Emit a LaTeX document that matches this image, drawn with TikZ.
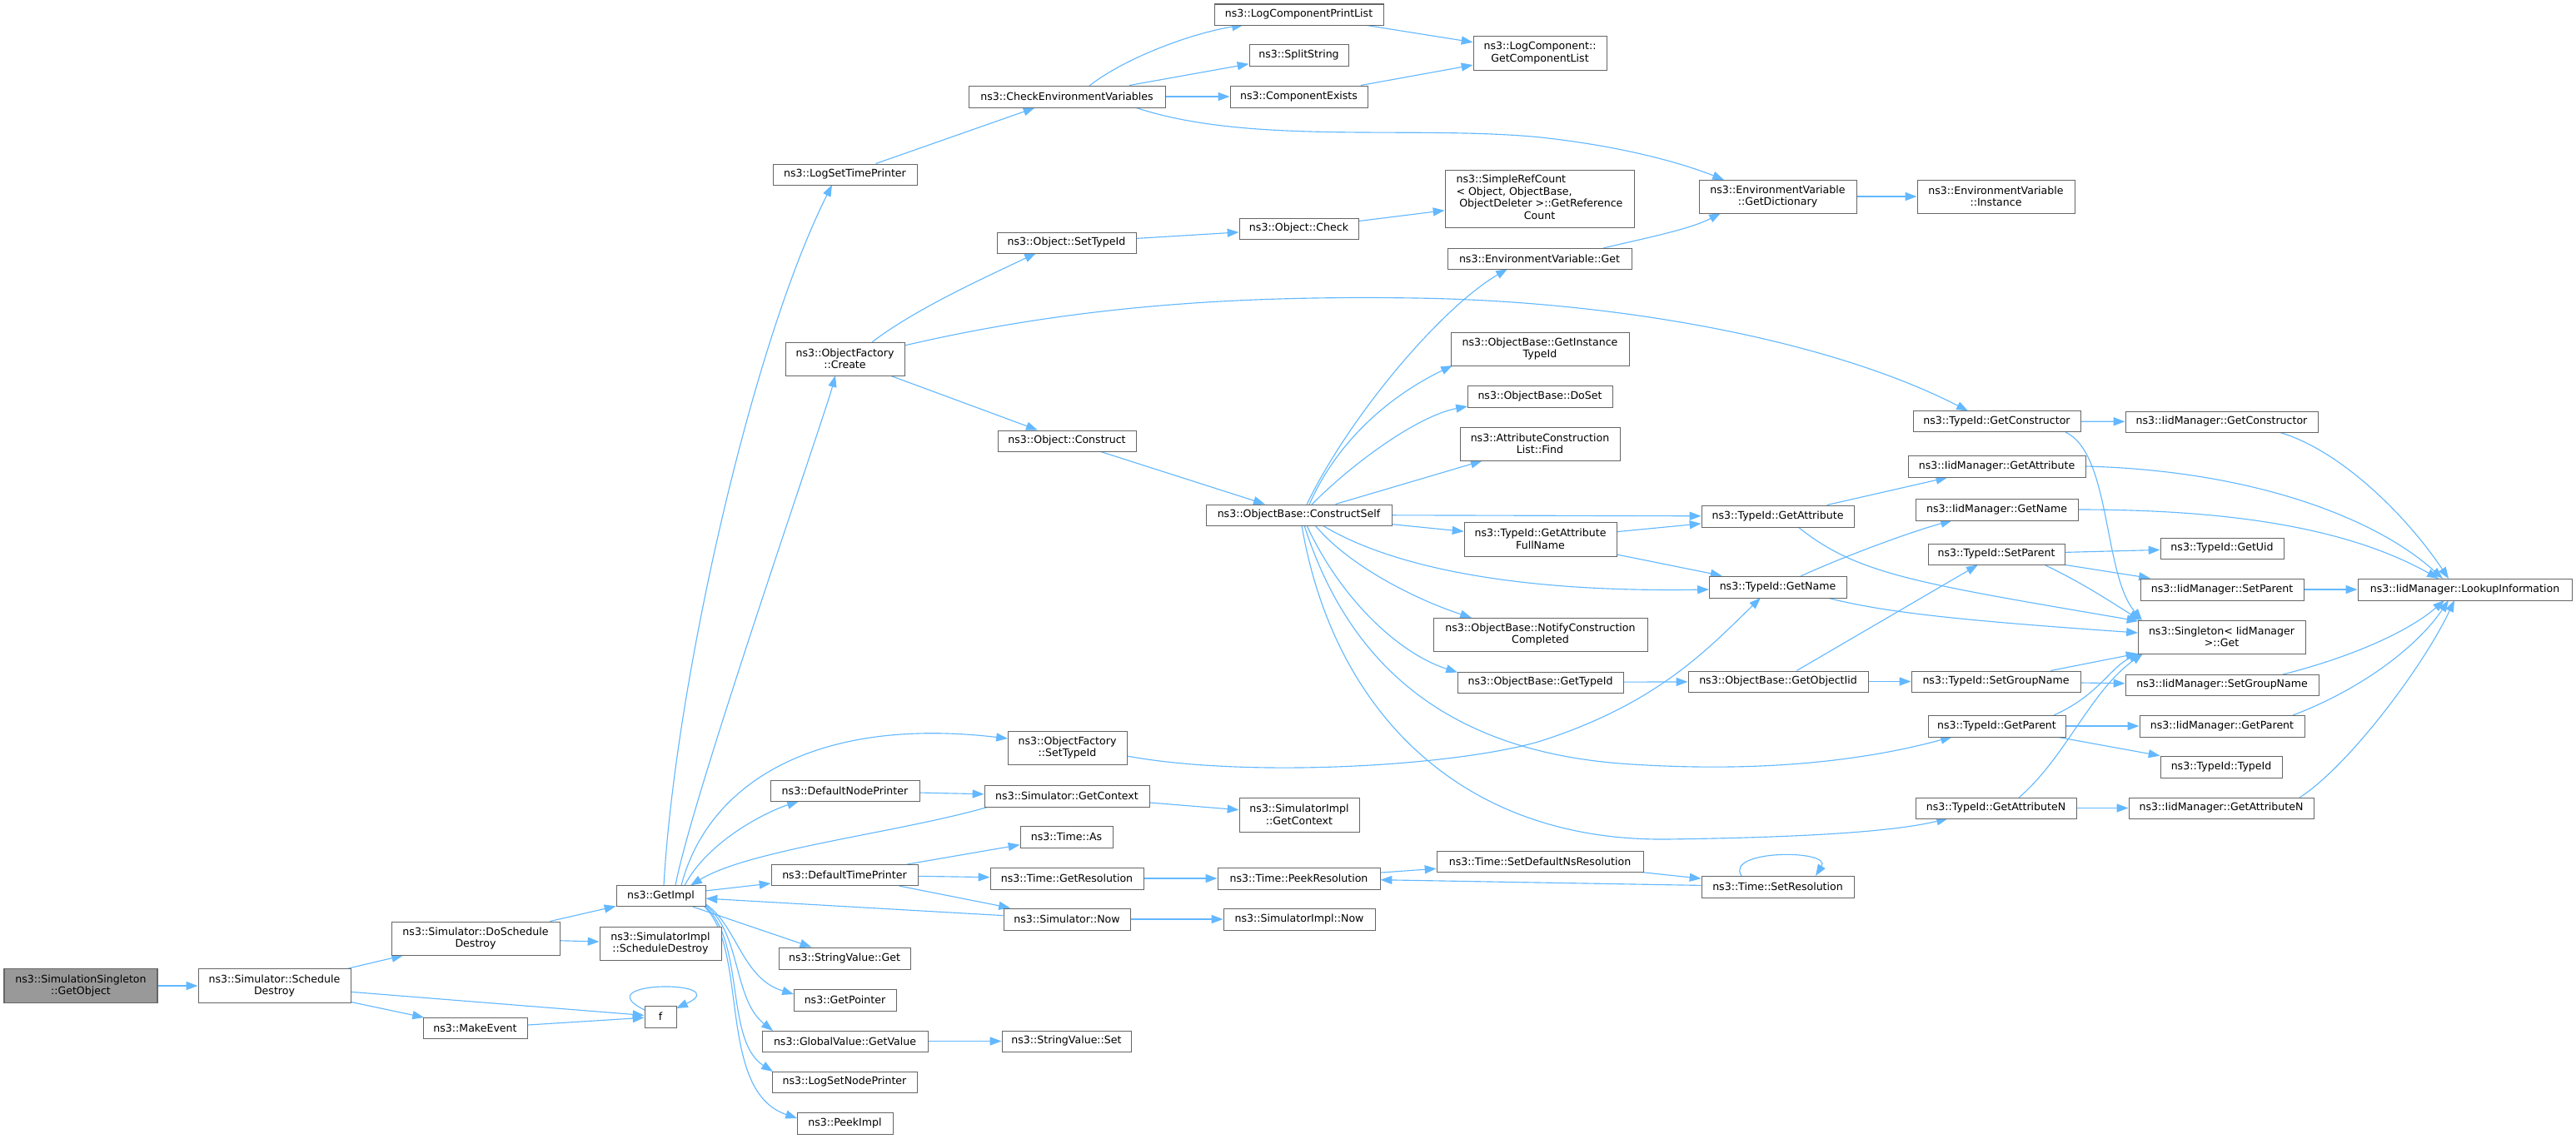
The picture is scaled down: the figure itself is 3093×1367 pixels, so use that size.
\documentclass[tikz,border=0pt]{standalone}
\usepackage{fontspec}
\setmainfont{DejaVu Sans}
\usetikzlibrary{arrows.meta,calc}
\definecolor{edgec}{HTML}{63B8FF}
\definecolor{boxc}{HTML}{666666}
\definecolor{rootc}{HTML}{999999}
\pgfdeclarelayer{bg}
\pgfsetlayers{bg,main}
\tikzset{
  box/.style={draw=boxc, fill=white, line width=0.8pt, inner sep=0pt, align=center,
              font=\fontsize{10}{11.5}\selectfont, text=black},
  bw/.style={minimum width=#1*0.7955pt},
  bh/.style={minimum height=#1*0.7955pt},
  e/.style={draw=edgec, line width=0.9pt, -{Triangle[length=11pt,width=8pt]}},
}
\begin{document}
\begin{tikzpicture}[x=0.7955pt, y=-0.7955pt]
\useasboundingbox (0,0) rectangle (3093,1367);
% rank 0-3
\node[box,bw=184,bh=41,fill=rootc] (root) at (97,1184) {ns3::SimulationSingleton\\::GetObject};
\node[box,bw=183,bh=41] (sched) at (329.5,1184) {ns3::Simulator::Schedule\\Destroy};
\node[box,bw=202,bh=40] (dosched) at (571,1127) {ns3::Simulator::DoSchedule\\Destroy};
\node[box,bw=125,bh=25] (mkev) at (570.5,1235) {ns3::MakeEvent};
\node[box,bw=107,bh=25] (getimpl) at (793.5,1076) {ns3::GetImpl};
\node[box,bw=146,bh=40] (simschd) at (793,1133) {ns3::SimulatorImpl\\::ScheduleDestroy};
\node[box,bw=38,bh=26] (f) at (793,1221) {f};
% rank 4
\node[box,bw=173,bh=25] (logsettp) at (1014.5,209.5) {ns3::LogSetTimePrinter};
\node[box,bw=143,bh=40] (ofcreate) at (1014.5,431) {ns3::ObjectFactory\\::Create};
\node[box,bw=179,bh=25] (defnp) at (1014.5,950) {ns3::DefaultNodePrinter};
\node[box,bw=176,bh=25] (deftp) at (1014,1051) {ns3::DefaultTimePrinter};
\node[box,bw=158,bh=26] (svget) at (1014,1151) {ns3::StringValue::Get};
\node[box,bw=123,bh=26] (getptr) at (1014.5,1201) {ns3::GetPointer};
\node[box,bw=199,bh=25] (gvget) at (1014.5,1250.5) {ns3::GlobalValue::GetValue};
\node[box,bw=174,bh=25] (lognp) at (1014,1299.5) {ns3::LogSetNodePrinter};
\node[box,bw=115,bh=26] (peek) at (1014.5,1349) {ns3::PeekImpl};
% rank 5
\node[box,bw=236,bh=26] (checkenv) at (1281,116) {ns3::CheckEnvironmentVariables};
\node[box,bw=167,bh=25] (objsettid) at (1280.5,291.5) {ns3::Object::SetTypeId};
\node[box,bw=166,bh=25] (objconst) at (1281,529.5) {ns3::Object::Construct};
\node[box,bw=143,bh=40] (ofsettid) at (1281.5,898) {ns3::ObjectFactory\\::SetTypeId};
\node[box,bw=198,bh=26] (simgetctx) at (1281,956) {ns3::Simulator::GetContext};
\node[box,bw=111,bh=26] (timeas) at (1280.5,1005) {ns3::Time::As};
\node[box,bw=184,bh=26] (timegetres) at (1281,1055) {ns3::Time::GetResolution};
\node[box,bw=152,bh=26] (simnow) at (1281,1104) {ns3::Simulator::Now};
\node[box,bw=155,bh=25] (svset) at (1280.5,1250.5) {ns3::StringValue::Set};
% rank 6
\node[box,bw=203,bh=25] (lcpl) at (1559.5,17.5) {ns3::LogComponentPrintList};
\node[box,bw=119,bh=26] (split) at (1559.5,66) {ns3::SplitString};
\node[box,bw=165,bh=26] (compex) at (1559.5,116) {ns3::ComponentExists};
\node[box,bw=143,bh=25] (objcheck) at (1559.5,274.5) {ns3::Object::Check};
\node[box,bw=223,bh=25] (cself) at (1559.5,618.5) {ns3::ObjectBase::ConstructSelf};
\node[box,bw=144,bh=41] (simigetctx) at (1560,978.5) {ns3::SimulatorImpl\\::GetContext};
\node[box,bw=195,bh=26] (peekres) at (1559.5,1055) {ns3::Time::PeekResolution};
\node[box,bw=182,bh=26] (siminow) at (1560,1104) {ns3::SimulatorImpl::Now};
% rank 7
\node[box,bw=160,bh=41] (gcl) at (1849,63.5) {ns3::LogComponent::\\GetComponentList};
\node[box,bw=227,bh=69] (srefc) at (1848.5,238.5) {\begin{tabular}{@{}l@{}}ns3::SimpleRefCount\\< Object, ObjectBase,\\\hspace{3pt}ObjectDeleter >::GetReference\\\multicolumn{1}{@{}c@{}}{Count}\end{tabular}};
\node[box,bw=221,bh=25] (envget) at (1848.5,310.5) {ns3::EnvironmentVariable::Get};
\node[box,bw=214,bh=40] (gitid) at (1849,419) {ns3::ObjectBase::GetInstance\\TypeId};
\node[box,bw=174,bh=26] (doset) at (1849,476) {ns3::ObjectBase::DoSet};
\node[box,bw=192,bh=40] (acfind) at (1849,533) {ns3::AttributeConstruction\\List::Find};
\node[box,bw=183,bh=41] (gafn) at (1849.5,647.5) {ns3::TypeId::GetAttribute\\FullName};
\node[box,bw=257,bh=40] (ncc) at (1849.5,762) {ns3::ObjectBase::NotifyConstruction\\Completed};
\node[box,bw=199,bh=25] (obgettid) at (1849.5,819.5) {ns3::ObjectBase::GetTypeId};
\node[box,bw=248,bh=25] (sdnr) at (1849,1034.5) {ns3::Time::SetDefaultNsResolution};
% rank 8
\node[box,bw=189,bh=40] (getdict) at (2134.5,236) {ns3::EnvironmentVariable\\::GetDictionary};
\node[box,bw=183,bh=26] (tgetattr) at (2134.5,620) {ns3::TypeId::GetAttribute};
\node[box,bw=165,bh=26] (tgetname) at (2134.5,705) {ns3::TypeId::GetName};
\node[box,bw=216,bh=25] (goiid) at (2135,818.5) {ns3::ObjectBase::GetObjectIid};
\node[box,bw=183,bh=26] (setres) at (2134.5,1065) {ns3::Time::SetResolution};
% rank 9
\node[box,bw=189,bh=40] (evinst) at (2396.5,236) {ns3::EnvironmentVariable\\::Instance};
\node[box,bw=201,bh=25] (tgetctor) at (2397.5,506) {ns3::TypeId::GetConstructor};
\node[box,bw=213,bh=26] (igetattr) at (2397.5,560) {ns3::IidManager::GetAttribute};
\node[box,bw=195,bh=26] (igetname) at (2397.5,612) {ns3::IidManager::GetName};
\node[box,bw=164,bh=25] (tsetpar) at (2397,665.5) {ns3::TypeId::SetParent};
\node[box,bw=203,bh=25] (tsetgrp) at (2396.5,818.5) {ns3::TypeId::SetGroupName};
\node[box,bw=165,bh=26] (tgetpar) at (2397.5,872) {ns3::TypeId::GetParent};
\node[box,bw=193,bh=25] (tgetattrn) at (2396.5,970.5) {ns3::TypeId::GetAttributeN};
% rank 10
\node[box,bw=231,bh=25] (igetctor) at (2667.5,506.5) {ns3::IidManager::GetConstructor};
\node[box,bw=148,bh=25] (tgetuid) at (2668,658.5) {ns3::TypeId::GetUid};
\node[box,bw=196,bh=26] (isetpar) at (2668,708) {ns3::IidManager::SetParent};
\node[box,bw=201,bh=40] (sget) at (2667.5,765) {ns3::Singleton< IidManager\\>::Get};
\node[box,bw=232,bh=25] (isetgrp) at (2668,822.5) {ns3::IidManager::SetGroupName};
\node[box,bw=198,bh=26] (igetpar) at (2668,872) {ns3::IidManager::GetParent};
\node[box,bw=146,bh=26] (ttid) at (2667,921) {ns3::TypeId::TypeId};
\node[box,bw=222,bh=25] (igetattrn) at (2667,970.5) {ns3::IidManager::GetAttributeN};
% rank 11
\node[box,bw=257,bh=26] (lookup) at (2959.5,708) {ns3::IidManager::LookupInformation};

\begin{pgfonlayer}{bg}
% left part
\draw[e] (root) -- (sched);
\draw[e] (sched) -- (dosched);
\draw[e] (sched) -- (f);
\draw[e] (sched) -- (mkev);
\draw[e] (dosched) -- (getimpl);
\draw[e] (dosched) -- (simschd);
\draw[e] (mkev) -- (f);
\draw[e] ($(f)+(-19,-8)$) .. controls (700,1177) and (885,1177) .. ($(f)+(19,-10)$);
% GetImpl
\draw[e] ($(getimpl)+(3.5,-12.5)$) .. controls (810,830) and (900,420) .. ($(logsettp)+(-15.5,12.5)$);
\draw[e] ($(getimpl)+(17.5,-12.5)$) .. controls (830,960) and (990,500) .. ($(ofcreate)+(-11.5,20)$);
\draw[e] ($(getimpl)+(24.5,-12.5)$) .. controls (850,940) and (980,860) .. ($(ofsettid)+(-71.5,-11)$);
\draw[e] ($(getimpl)+(28.5,-12.5)$) .. controls (850,1010) and (920,975) .. ($(defnp)+(-55.5,12.5)$);
\draw[e] ($(simgetctx)+(-94,13)$) .. controls (1080,1000) and (900,1020) .. ($(getimpl)+(35.5,-12.5)$);
\draw[e] (getimpl) -- (deftp);
\draw[e] (simnow) -- (getimpl);
\draw[e] (getimpl) -- (svget);
\draw[e] ($(getimpl)+(52.5,9)$) .. controls (885,1110) and (890,1175) .. ($(getptr)+(-61.5,-7)$);
\draw[e] ($(getimpl)+(53.5,11)$) .. controls (890,1120) and (880,1200) .. ($(gvget)+(-86.5,-12.5)$);
\draw[e] ($(getimpl)+(52.5,12)$) .. controls (895,1130) and (870,1250) .. ($(lognp)+(-86,-12.5)$);
\draw[e] ($(getimpl)+(51.5,12)$) .. controls (900,1140) and (860,1310) .. ($(peek)+(-57.5,-6)$);
% printers / time
\draw[e] (defnp) -- (simgetctx);
\draw[e] (simgetctx) -- (simigetctx);
\draw[e] (deftp) -- (timeas);
\draw[e] (deftp) -- (timegetres);
\draw[e] (deftp) -- (simnow);
\draw[e] (timegetres) -- (peekres);
\draw[e] (simnow) -- (siminow);
\draw[e] (gvget) -- (svset);
\draw[e] (peekres) -- (sdnr);
\draw[e] (sdnr) -- (setres);
\draw[e] (setres) -- (peekres);
\draw[e] ($(setres)+(-43.5,-13)$) .. controls (2070,1020) and (2200,1020) .. ($(setres)+(45.5,-13)$);
\draw[e] ($(ofsettid)+(71.5,10)$) .. controls (1500,935) and (1750,920) .. (1850,890) .. controls (1990,845) and (2050,780) .. ($(tgetname)+(-20.5,13)$);
% top part
\draw[e] (logsettp) -- (checkenv);
\draw[e] ($(checkenv)+(27,-13)$) .. controls (1350,70) and (1430,40) .. ($(lcpl)+(-66.5,12.5)$);
\draw[e] (checkenv) -- (split);
\draw[e] (checkenv) -- (compex);
\draw[e] ($(checkenv)+(82,13)$) .. controls (1500,175) and (1700,150) .. (1850,165) .. controls (1960,177) and (2030,200) .. ($(getdict)+(-64.5,-20)$);
\draw[e] (lcpl) -- (gcl);
\draw[e] (compex) -- (gcl);
\draw[e] ($(envget)+(76.5,-12.5)$) .. controls (1980,285) and (2030,275) .. ($(getdict)+(-68.5,20)$);
\draw[e] (getdict) -- (evinst);
\draw[e] ($(ofcreate)+(32.5,-20)$) .. controls (1100,370) and (1190,330) .. ($(objsettid)+(-36.5,12.5)$);
\draw[e] ($(ofcreate)+(71.5,-16)$) .. controls (1300,365) and (1500,355) .. (1700,358) .. controls (1950,362) and (2200,410) .. ($(tgetctor)+(-34.5,-12.5)$);
\draw[e] (ofcreate) -- (objconst);
\draw[e] (objsettid) -- (objcheck);
\draw[e] (objcheck) -- (srefc);
\draw[e] (objconst) -- (cself);
% ConstructSelf
\draw[e] ($(cself)+(9.5,-12.5)$) .. controls (1620,500) and (1730,370) .. ($(envget)+(-38.5,12.5)$);
\draw[e] ($(cself)+(12.5,-12.5)$) .. controls (1610,520) and (1680,470) .. ($(gitid)+(-105,20)$);
\draw[e] ($(cself)+(15.5,-12.5)$) .. controls (1620,560) and (1700,500) .. ($(doset)+(-87,12)$);
\draw[e] (cself) -- (acfind);
\draw[e] (cself) -- (tgetattr);
\draw[e] (cself) -- (gafn);
\draw[e] ($(cself)+(28.5,12.5)$) .. controls (1660,675) and (1800,712) .. ($(tgetname)+(-82.5,3)$);
\draw[e] ($(cself)+(19.5,12.5)$) .. controls (1620,680) and (1700,720) .. ($(ncc)+(-82.5,-20)$);
\draw[e] ($(cself)+(9.5,12.5)$) .. controls (1610,720) and (1680,785) .. ($(obgettid)+(-99.5,-12)$);
\draw[e] ($(cself)+(6.5,12.5)$) .. controls (1620,800) and (1740,905) .. (1960,918) .. controls (2150,930) and (2270,905) .. ($(tgetpar)+(-53.5,13)$);
\draw[e] ($(cself)+(3.5,12.5)$) .. controls (1600,850) and (1750,1010) .. (2000,1008) .. controls (2150,1006) and (2270,1000) .. ($(tgetattrn)+(-57.5,12.5)$);
% TypeId level
\draw[e] (gafn) -- (tgetattr);
\draw[e] (gafn) -- (tgetname);
\draw[e] (tgetattr) -- (igetattr);
\draw[e] ($(tgetattr)+(24.5,13)$) .. controls (2230,690) and (2300,700) .. ($(sget)+(-100,-19)$);
\draw[e] ($(tgetname)+(27.5,-13)$) .. controls (2210,670) and (2290,640) .. ($(igetname)+(-53.5,13)$);
\draw[e] ($(tgetname)+(59.5,13)$) .. controls (2260,735) and (2350,745) .. ($(sget)+(-100.5,-5)$);
\draw[e] (obgettid) -- (goiid);
\draw[e] (goiid) -- (tsetpar);
\draw[e] (goiid) -- (tsetgrp);
\draw[e] (tgetctor) -- (igetctor);
\draw[e] ($(tgetctor)+(82.5,13)$) .. controls (2535,545) and (2525,690) .. ($(sget)+(-95.5,-20)$);
\draw[e] ($(igetctor)+(68.5,12.5)$) .. controls (2810,540) and (2890,620) .. ($(lookup)+(-19.5,-13)$);
\draw[e] ($(igetattr)+(106.5,0)$) .. controls (2700,565) and (2850,620) .. ($(lookup)+(-26.5,-13)$);
\draw[e] ($(igetname)+(97.5,0)$) .. controls (2700,612) and (2830,640) .. ($(lookup)+(-31.5,-13)$);
\draw[e] (tsetpar) -- (tgetuid);
\draw[e] (tsetpar) -- (isetpar);
\draw[e] ($(tsetpar)+(57,12.5)$) .. controls (2500,700) and (2530,720) .. ($(sget)+(-97.5,-20)$);
\draw[e] (isetpar) -- (lookup);
\draw[e] (tsetgrp) -- (sget);
\draw[e] (tsetgrp) -- (isetgrp);
\draw[e] ($(isetgrp)+(73,-12.5)$) .. controls (2820,790) and (2890,760) .. ($(lookup)+(-24.5,13)$);
\draw[e] ($(tgetpar)+(68.5,-13)$) .. controls (2520,835) and (2535,800) .. ($(sget)+(-97.5,20)$);
\draw[e] (tgetpar) -- (igetpar);
\draw[e] (tgetpar) -- (ttid);
\draw[e] ($(igetpar)+(85,-13)$) .. controls (2830,830) and (2900,780) .. ($(lookup)+(-19.5,13)$);
\draw[e] ($(tgetattrn)+(27.5,-12.5)$) .. controls (2480,910) and (2510,830) .. ($(sget)+(-94.5,20)$);
\draw[e] (tgetattrn) -- (igetattrn);
\draw[e] ($(igetattrn)+(94,-12.5)$) .. controls (2820,920) and (2910,800) .. ($(lookup)+(-12.5,13)$);
\end{pgfonlayer}
\end{tikzpicture}
\end{document}
